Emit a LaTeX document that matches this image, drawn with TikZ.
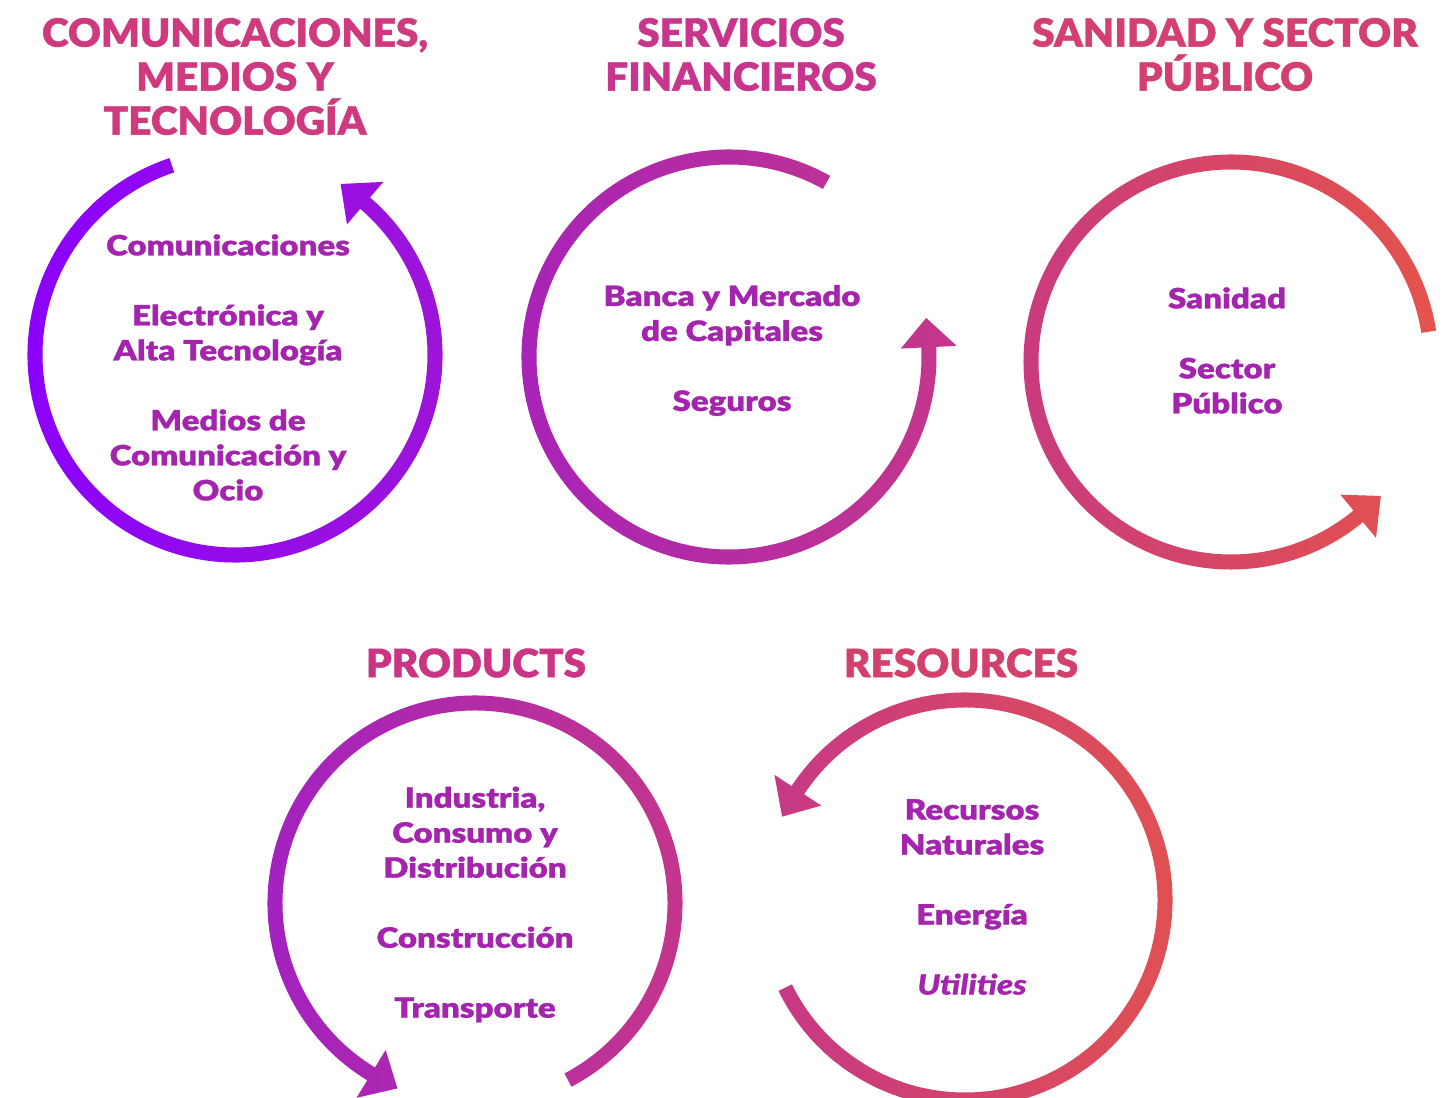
\documentclass[tikz,border=0pt]{standalone}
\usepackage{fontspec}
\setmainfont{Lato}[UprightFont={* Black}, ItalicFont={* Black Italic}, BoldFont={* Black}, BoldItalicFont={* Black Italic}]
\newfontfamily\ttlfont{Lato}[UprightFont={* Black}, FakeStretch=1.04, FakeBold=1]
\newfontfamily\inrfont{Lato}[UprightFont={* Black}, ItalicFont={* Black Italic}, FakeStretch=1.18, FakeBold=1]
\definecolor{txt}{HTML}{A424AE}
\definecolor{tOne}{HTML}{CF3A7E}
\definecolor{tTwo}{HTML}{C8358C}
\definecolor{tThree}{HTML}{D33F70}
\definecolor{tFour}{HTML}{C93582}
\definecolor{tFive}{HTML}{D2406C}
\definecolor{rA}{HTML}{8A00FF}
\definecolor{rB}{HTML}{9E16D6}
\definecolor{rC}{HTML}{A622BA}
\definecolor{rD}{HTML}{C4378A}
\definecolor{rE}{HTML}{C83A80}
\definecolor{rF}{HTML}{E4534B}
\definecolor{rG}{HTML}{A020C4}
\definecolor{rH}{HTML}{C63788}
\definecolor{rI}{HTML}{C73886}
\definecolor{rJ}{HTML}{E2524E}
% #1 cx, #2 cy, #3 R, #4 start, #5 arrow base, #6 tip, #7 left colour, #8 right colour
\newcommand\myring[8]{%
  \shade[left color=#7, right color=#8, shift={(#1,#2)}]
    ({#4}:{#3+7.5}) arc[start angle=#4, end angle=#5, radius=#3+7.5]
    -- ({#5}:{#3+28}) -- ({#6}:{#3+1}) -- ({#5}:{#3-28}) -- ({#5}:{#3-7.5})
    arc[start angle=#5, end angle=#4, radius=#3-7.5] -- cycle;}
\tikzset{
  title/.style={align=center, font=\ttlfont\fontsize{39}{44}\selectfont, inner sep=0pt},
  inner/.style={align=center, font=\inrfont\fontsize{28}{35}\selectfont, text=txt, inner sep=0pt}
}
\begin{document}
\begin{tikzpicture}[x=1pt,y=1pt]
\useasboundingbox (0,0) rectangle (1449,1098);
\clip (0,0) rectangle (1449,1098);
\fill[white] (0,0) rectangle (1449,1098);
% rings
\myring{235}{743}{200}{108.4}{409.4}{418.3}{rA}{rB}
\myring{729}{741}{200}{60.8}{362.8}{371.2}{rC}{rD}
\myring{1231}{736}{200}{8.7}{309.5}{318.2}{rE}{rF}
\myring{475}{195}{200}{-62.3}{238.7}{247.3}{rG}{rH}
\myring{965}{198}{200}{206}{506.7}{515.5}{rI}{rJ}
% titles
\node[title, text=tOne] (t1) at (235,1021.5) {COMUNICACIONES,\\MEDIOS Y\\TECNOLOGÍA};
\node[title, text=tTwo] (t2) at (741,1043.5) {SERVICIOS\\FINANCIEROS};
\node[title, text=tThree] (t3) at (1225,1043.5) {SANIDAD Y SECTOR\\PÚBLICO};
\node[title, text=tFour] (t4) at (476,435) {PRODUCTS};
\node[title, text=tFive] (t5) at (961,435) {RESOURCES};
% inner texts
\node[inner] (b1) at (228,730.5) {Comunicaciones\\[35pt]Electrónica y\\Alta Tecnología\\[35pt]Medios de\\Comunicación y\\Ocio};
\node[inner] (b2) at (732,747.5) {Banca y Mercado\\de Capitales\\[35pt]Seguros};
\node[inner] (b3) at (1227,747.5) {Sanidad\\[35pt]Sector\\Público};
\node[inner] (b4) at (475,193.5) {Industria,\\Consumo y\\Distribución\\[35pt]Construcción\\[35pt]Transporte};
\node[inner] (b5) at (972,201) {Recursos\\Naturales\\[35pt]Energía\\[35pt]\textit{Utilities}};
\end{tikzpicture}
\end{document}
